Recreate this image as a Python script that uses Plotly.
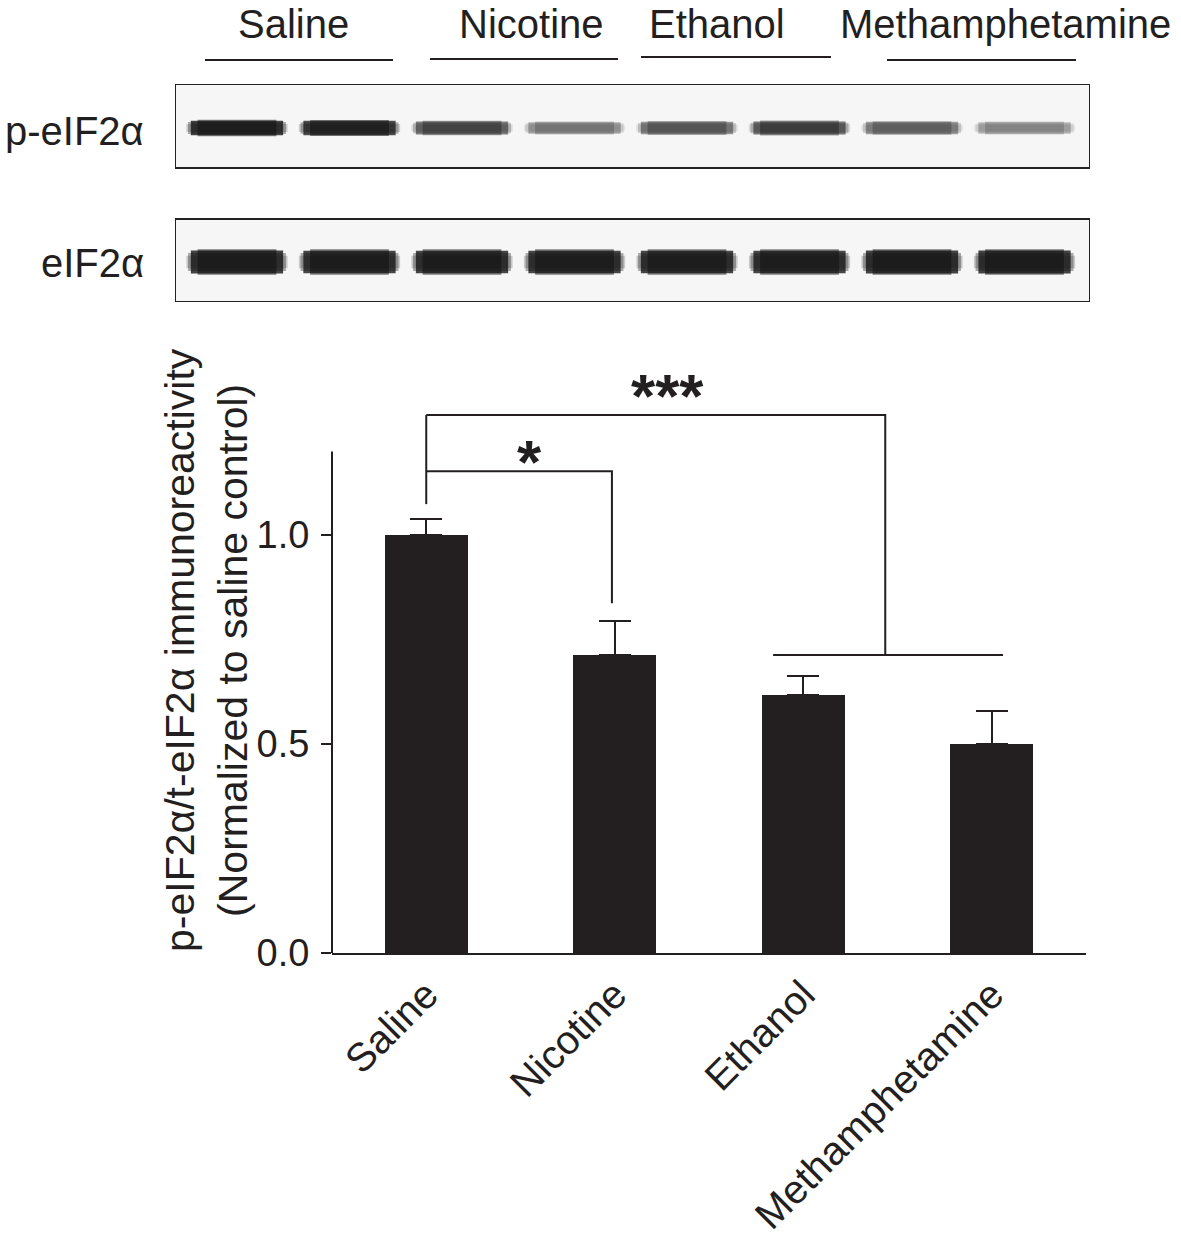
import plotly.graph_objects as go

W, H = 1181, 1239


def px(x):
    return x / W


def py(y):
    return 1 - y / H


# ---------------- data ----------------
categories = ["Saline", "Nicotine", "Ethanol", "Methamphetamine"]
means = [1.00, 0.713, 0.617, 0.501]
sem = [0.038, 0.082, 0.046, 0.078]
y_tickvals = [0.0, 0.5, 1.0]
y_ticktext = ["0.0", "0.5", "1.0"]

blot_rows = ["p-eIF2α", "eIF2α"]
lanes = [1, 2, 3, 4, 5, 6, 7, 8]
p_eif2a_band = [0.95, 0.90, 0.62, 0.38, 0.52, 0.66, 0.48, 0.32]
t_eif2a_band = [0.97, 0.96, 0.96, 0.95, 0.95, 0.95, 0.97, 0.97]

INK = "#231f20"
FONT = "Arial, Liberation Sans, Helvetica, sans-serif"
FS = 40

fig = go.Figure()

# ---------------- bar chart ----------------
xpos = list(range(len(categories)))
fig.add_trace(go.Bar(
    x=xpos, y=means, width=0.44,
    marker=dict(color=INK, line=dict(width=0)),
    error_y=dict(type="data", array=sem, arrayminus=[0] * len(sem), symmetric=False,
                 thickness=2, width=16, color=INK),
    xaxis="x", yaxis="y", showlegend=False, hoverinfo="skip",
))

# significance brackets
bx = [0, 0, None, 0, 0.985, 0.985, None, 0, 2.435, 2.435, None, 1.84, 3.06]
by = [1.074, 1.287, None, 1.153, 1.153, 0.837, None, 1.287, 1.287, 0.713, None, 0.713, 0.713]
fig.add_trace(go.Scatter(x=bx, y=by, mode="lines", line=dict(color=INK, width=2),
                         xaxis="x", yaxis="y", showlegend=False, hoverinfo="skip"))

# ---------------- western blot ----------------
row_y = {"p-eIF2α": 174, "eIF2α": 40}
row_core = {"p-eIF2α": 15, "eIF2α": 23}
# layered strokes (half-length, width factor, opacity) give soft, tapered bands
layers = [(0.45, 0.55, 0.2), (0.435, 0.8, 0.35), (0.41, 1.0, 0.8), (0.35, 1.12, 0.55)]
for row, vals in zip(blot_rows, [p_eif2a_band, t_eif2a_band]):
    for lane, a in zip(lanes, vals):
        base = row_core[row] * (0.65 + 0.35 * a)
        for half, wf, alpha in layers:
            fig.add_trace(go.Scatter(
                x=[lane - half, lane + half], y=[row_y[row], row_y[row]],
                mode="lines",
                line=dict(color=f"rgba(15,15,15,{a * alpha:.3f})", width=base * wf),
                xaxis="x2", yaxis="y2", showlegend=False, hoverinfo="skip",
            ))

shapes = []
# blot boxes
for y0, y1 in [(134, 218), (0, 83)]:
    shapes.append(dict(type="rect", xref="x2", yref="y2", x0=0.449, x1=8.582, y0=y0, y1=y1,
                       line=dict(color="#222222", width=2), fillcolor="#f6f6f6", layer="below"))
# group underlines
for x0, x1, yy in [(205, 393, 60), (430, 618, 59), (641, 831, 57), (887, 1076, 60)]:
    shapes.append(dict(type="line", xref="paper", yref="paper", x0=px(x0), x1=px(x1),
                       y0=py(yy), y1=py(yy), line=dict(color=INK, width=2)))
# y axis line
shapes.append(dict(type="line", xref="paper", yref="y", x0=px(332), x1=px(332), y0=0, y1=1.2,
                   line=dict(color=INK, width=2)))

annotations = []
for label, cx in zip(categories, [293, 531, 717, 1006]):
    annotations.append(dict(text=label, x=px(cx), y=py(0), xref="paper", yref="paper",
                            xanchor="center", yanchor="top", showarrow=False,
                            font=dict(size=FS, color=INK, family=FONT)))
for label, cy in zip(blot_rows, [131, 263]):
    annotations.append(dict(text=label, x=px(146), y=py(cy), xref="paper", yref="paper",
                            xanchor="right", yanchor="middle", showarrow=False,
                            font=dict(size=FS, color=INK, family=FONT)))
# y title
annotations.append(dict(text="p-eIF2α/t-eIF2α immunoreactivity<br>(Normalized to saline control)",
                        textangle=-90, x=px(206), y=py(650), xref="paper", yref="paper",
                        xanchor="center", yanchor="middle", showarrow=False,
                        font=dict(size=41, color=INK, family=FONT)))
# asterisks
annotations.append(dict(text="<b>*</b>", x=0.55, y=1.175, xref="x", yref="y", showarrow=False,
                        xanchor="center", yanchor="middle", font=dict(size=62, color=INK, family=FONT)))
annotations.append(dict(text="<b>***</b>", x=1.28, y=1.335, xref="x", yref="y", showarrow=False,
                        xanchor="center", yanchor="middle", font=dict(size=62, color=INK, family=FONT)))

fig.update_layout(
    width=W, height=H,
    autosize=False,
    margin=dict(l=0, r=0, t=0, b=0, pad=0, autoexpand=False),
    paper_bgcolor="white", plot_bgcolor="white",
    font=dict(family=FONT, color=INK),
    showlegend=False,
    bargap=0,
    xaxis=dict(domain=[px(332), px(1086)], range=[-0.5, 3.5], tickvals=xpos, ticktext=categories,
               tickangle=-45, tickfont=dict(size=FS, color=INK), showline=True, linecolor=INK,
               linewidth=2, ticks="", showgrid=False, zeroline=False, anchor="y", automargin=False),
    yaxis=dict(domain=[py(953), py(347)], range=[0, 1.45], tickvals=y_tickvals, ticktext=y_ticktext,
               ticks="outside", ticklen=10, tickwidth=2, tickcolor=INK, ticklabelstandoff=4,
               tickfont=dict(size=38, color=INK), showline=False, showgrid=False, zeroline=False,
               anchor="x", automargin=False),
    xaxis2=dict(domain=[px(175), px(1090)], range=[0.449, 8.582], visible=False, anchor="y2",
                automargin=False),
    yaxis2=dict(domain=[py(302), py(84)], range=[0, 218], visible=False, anchor="x2",
                automargin=False),
    shapes=shapes,
    annotations=annotations,
)

fig.write_html(
    "out.html",
    config={"displayModeBar": False},
    post_script="document.body.style.margin='0';document.body.style.padding='0';"
                "document.documentElement.style.overflow='hidden';",
)
